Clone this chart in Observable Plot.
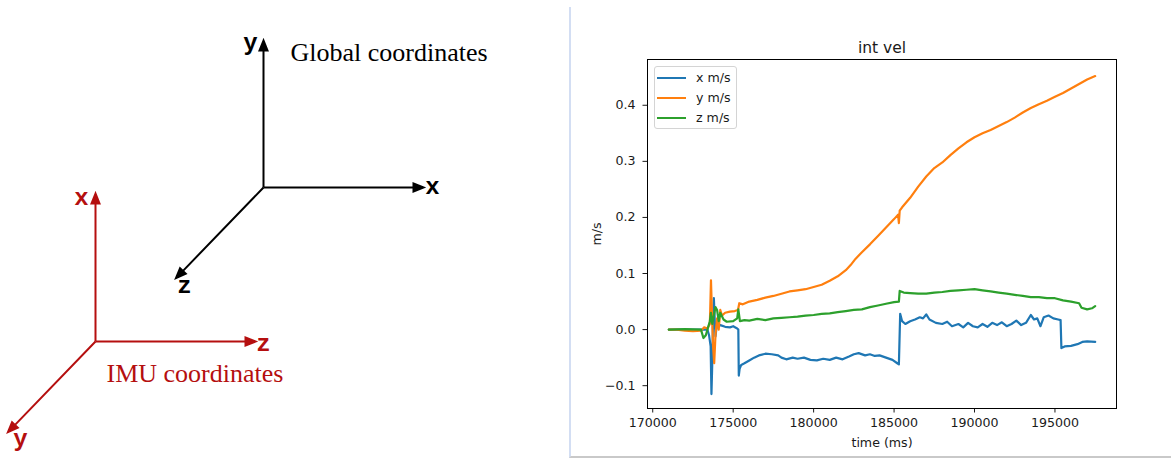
<!DOCTYPE html>
<html><head><meta charset="utf-8">
<script src="https://cdn.jsdelivr.net/npm/d3@7"></script>
<script src="https://cdn.jsdelivr.net/npm/@observablehq/plot@0.6"></script>
<style>
body{margin:0;background:#fff}
#wrap{position:relative;width:1171px;height:460px;overflow:hidden;background:#fff}
#left{position:absolute;left:0;top:0}
#right{position:absolute;left:570px;top:0}
#sep{position:absolute;left:569px;top:7px;width:602px;height:451px;border-left:2px solid #d3def3;border-bottom:2px solid #c9c9c9;box-sizing:border-box}
#legend{position:absolute;left:654px;top:66px;width:83px;height:63px;box-sizing:border-box;border:1px solid #d4d4d4;border-radius:3px;background:rgba(255,255,255,0.8);font-family:"DejaVu Sans";font-size:12.6px;color:#1a1a1a}
#legend .row{position:absolute;left:0;height:20px;line-height:20px;white-space:nowrap}
#legend .sw{position:absolute;left:2px;top:9px;width:29px;height:2px}
#legend .lb{position:absolute;left:41px;top:0}
.axletter text{font-family:"Liberation Mono","Courier New",monospace !important;font-weight:bold}
</style></head><body>
<div id="wrap"><div id="left"></div><div id="right"></div><div id="legend"></div><div id="sep"></div></div>
<script>
// ---------- chart data ----------
const seriesNames = ["x m/s", "y m/s", "z m/s"];
const seriesColors = ["#1f77b4", "#ff7f0e", "#2ca02c"];
const xTicks = [170000, 175000, 180000, 185000, 190000, 195000];
const yTicks = [-0.1, 0.0, 0.1, 0.2, 0.3, 0.4];

const xTime = [171000,172000,173000,173400,173500,173600,173650,173700,173750,173800,173850,173900,173950,174000,174200,174500,174800,175000,175250,175320,175350,175400,175500,175700,176000,176300,176600,177000,177400,177800,178000,178300,178700,179000,179400,179800,180200,180600,181000,181400,181800,182200,182500,182800,183200,183500,183800,184100,184500,184900,185200,185300,185380,185500,185700,186000,186300,186600,186800,187000,187200,187600,188000,188300,188600,189000,189300,189600,189900,190200,190500,190800,191100,191400,191700,192000,192300,192600,192900,193200,193500,193700,193900,194100,194300,194600,194900,195200,195350,195400,195600,196000,196400,196700,197000,197500];
const xVel = [0,0,0,0,-0.01,-0.03,-0.115,-0.06,0.02,0.056,0.02,-0.012,0,0.006,0.008,0.005,0.004,0.006,0.002,0,-0.082,-0.07,-0.063,-0.06,-0.055,-0.05,-0.046,-0.043,-0.044,-0.046,-0.05,-0.053,-0.05,-0.052,-0.05,-0.054,-0.055,-0.052,-0.054,-0.05,-0.053,-0.048,-0.044,-0.042,-0.046,-0.044,-0.047,-0.046,-0.05,-0.054,-0.06,-0.062,0.028,0.015,0.01,0.015,0.018,0.022,0.02,0.027,0.018,0.012,0.01,0.014,0.006,0.01,0.004,0.012,0.006,0.004,0.01,0.005,0.012,0.008,0.013,0.006,0.01,0.016,0.008,0.012,0.026,0.018,0.02,0.006,0.022,0.025,0.02,0.018,0.017,-0.033,-0.03,-0.029,-0.026,-0.022,-0.021,-0.022];

const yTime = [171000,171500,172000,172500,173000,173200,173400,173550,173620,173680,173750,173820,173900,174000,174100,174200,174300,174500,174800,175100,175300,175380,175600,176000,176500,177000,177500,178000,178500,179000,179500,180000,180500,181000,181500,182000,182300,182600,183000,183500,184000,184500,185000,185250,185300,185350,185500,186000,186500,187000,187500,188000,188500,189000,189500,190000,190500,191000,191500,192000,192500,193000,193500,194000,194500,195000,195500,196000,196500,197000,197500];
const yVel = [0,0,-0.002,-0.003,-0.002,0.004,0.002,0.01,0.088,0.03,-0.03,-0.06,-0.01,0.02,0,0.035,0.025,0.03,0.032,0.033,0.035,0.047,0.045,0.05,0.053,0.057,0.06,0.064,0.068,0.07,0.072,0.076,0.08,0.087,0.095,0.106,0.115,0.126,0.138,0.152,0.167,0.182,0.197,0.205,0.19,0.212,0.218,0.235,0.255,0.273,0.288,0.298,0.311,0.323,0.334,0.343,0.35,0.356,0.363,0.37,0.378,0.387,0.395,0.402,0.408,0.415,0.422,0.43,0.438,0.446,0.452];

const zTime = [171000,172000,173000,173150,173300,173450,173550,173620,173700,173800,173900,174000,174100,174200,174400,174600,175000,175250,175320,175420,175700,176000,176500,177000,177500,178000,178500,179000,179500,180000,180500,181000,181500,182000,182500,183000,183500,184000,184500,185000,185300,185350,185600,186000,186500,187000,187500,188000,188500,189000,189500,190000,190500,191000,191500,192000,192500,193000,193500,194000,194500,195000,195500,196000,196500,196650,197000,197300,197500];
const zVel = [0,0.001,0,-0.015,-0.01,0.005,0.015,0.03,0.01,0.025,0.04,0.035,0.015,0.03,0.018,0.014,0.015,0.02,0.036,0.015,0.017,0.016,0.019,0.017,0.02,0.021,0.022,0.023,0.025,0.026,0.028,0.029,0.031,0.033,0.035,0.036,0.04,0.043,0.046,0.049,0.05,0.069,0.066,0.065,0.064,0.064,0.066,0.067,0.069,0.07,0.071,0.072,0.07,0.068,0.066,0.064,0.062,0.06,0.058,0.058,0.056,0.056,0.052,0.05,0.047,0.039,0.036,0.038,0.042];

// ---------- diagram geometry ----------
const diagramSystems = [
  {name: "Global coordinates", color: "#000000", ox: 263, oy: 187, tx: 290, ty: 60},
  {name: "IMU coordinates", color: "#b50f0f", ox: 95, oy: 341, tx: 106, ty: 381}
];
const diagramAxes = [
  {sys: 0, axis: "y", angle: 0, len: 147, lx: 250, ly: 42},
  {sys: 0, axis: "x", angle: 90, len: 160, lx: 432, ly: 186},
  {sys: 0, axis: "z", angle: 224, len: 126, lx: 184, ly: 285},
  {sys: 1, axis: "x", angle: 0, len: 148, lx: 81, ly: 197},
  {sys: 1, axis: "z", angle: 90, len: 160, lx: 263, ly: 343},
  {sys: 1, axis: "y", angle: 224, len: 126, lx: 20, ly: 438}
];

// ---------- left diagram ----------
const arrowShape = {
  draw(context, l) {
    const hl = 10, hw = 4;
    context.moveTo(0, 0);
    context.lineTo(0, -l + hl * 0.6);
    context.moveTo(0, -l);
    context.lineTo(-hw, -l + hl);
    context.lineTo(hw, -l + hl);
    context.closePath();
  }
};
const axRows = diagramAxes.map(a => ({...a, ...diagramSystems[a.sys], axis: a.axis}));
const left = Plot.plot({
  width: 570, height: 460, margin: 0,
  x: {type: "identity", axis: null},
  y: {type: "identity", axis: null},
  length: {type: "identity"},
  style: {background: "transparent"},
  marks: [
    Plot.vector(axRows, {x: "ox", y: "oy", length: "len", rotate: "angle", anchor: "start",
      shape: arrowShape, stroke: d => d.color, fill: d => d.color, strokeWidth: 2, strokeLinecap: "butt", strokeLinejoin: "miter"}),
    Plot.text(axRows, {x: "lx", y: "ly", text: "axis", fill: d => d.color, className: "axletter",
      fontFamily: "Liberation Mono", fontWeight: "bold", fontSize: 24, lineAnchor: "middle", textAnchor: "middle"}),
    Plot.text(diagramSystems, {x: "tx", y: "ty", text: "name", fill: d => d.color, fontFamily: "Liberation Serif",
      fontSize: 26, textAnchor: "start", lineAnchor: "bottom"})
  ]
});
document.getElementById("left").appendChild(left);

// ---------- right chart ----------
const seriesData = [[xTime, xVel], [yTime, yVel], [zTime, zVel]];
const rows = [];
seriesData.forEach(([ts, vs], i) => ts.forEach((t, j) => rows.push({series: seriesNames[i], t, v: vs[j]})));
const fmt = d => d.toFixed(1).replace("-", "\u2212");

const right = Plot.plot({
  width: 601, height: 460,
  marginLeft: 77, marginRight: 55, marginTop: 59, marginBottom: 52,
  style: {fontFamily: "DejaVu Sans", fontSize: "12.6px", color: "#1a1a1a", background: "transparent"},
  x: {domain: [169675, 198825]},
  y: {domain: [-0.1407, 0.4816]},
  color: {domain: seriesNames, range: seriesColors},
  marks: [
    Plot.axisX({ticks: xTicks, tickFormat: d => String(d), tickSize: 4.5, tickPadding: 5.5,
      label: "time (ms)", labelAnchor: "center", labelArrow: "none", labelOffset: 38}),
    Plot.axisY({ticks: yTicks, tickFormat: fmt, tickSize: 4.5, tickPadding: 7.5,
      label: "m/s", labelAnchor: "center", labelArrow: "none", labelOffset: 55}),
    Plot.line(rows, {x: "t", y: "v", z: "series", stroke: "series", strokeWidth: 2.2, strokeLinejoin: "round"}),
    Plot.frame({stroke: "#000", strokeWidth: 1}),
    Plot.text(["int vel"], {text: d => d, frameAnchor: "top", lineAnchor: "bottom", dy: -6.5, fontSize: 15.5})
  ]
});
document.getElementById("right").appendChild(right);

// ---------- legend ----------
const legend = document.getElementById("legend");
seriesNames.forEach((name, i) => {
  const row = document.createElement("div");
  row.className = "row";
  row.style.top = (0.5 + i * 20.3) + "px";
  row.innerHTML = `<div class="sw" style="background:${seriesColors[i]}"></div><div class="lb">${name}</div>`;
  legend.appendChild(row);
});
</script>
</body></html>
